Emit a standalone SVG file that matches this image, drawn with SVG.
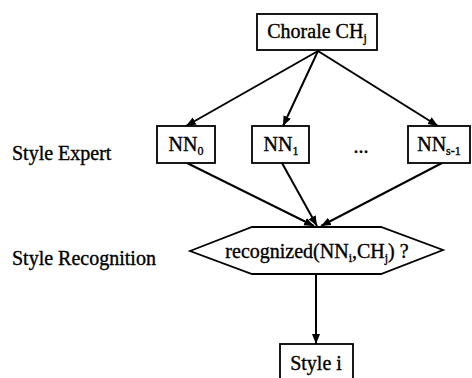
<svg xmlns="http://www.w3.org/2000/svg" width="472" height="378" viewBox="0 0 472 378">
<style>
  .box{fill:#fff;stroke:#000;stroke-width:1.8}
  .t{font-family:"Liberation Serif","Times New Roman",serif;font-size:20px;fill:#000;stroke:#000;stroke-width:0.35}
  .m{text-anchor:middle}
  .sub{font-size:12px}
  .edge{stroke:#000;stroke-width:2;fill:none;marker-end:url(#ah)}
</style>
<defs>
  <marker id="ah" markerUnits="userSpaceOnUse" markerWidth="12" markerHeight="10" refX="10" refY="4" orient="auto">
    <path d="M0,0 L10,4 L0,8 Z" fill="#000"/>
  </marker>
</defs>
<rect width="472" height="378" fill="#fff"/>
<g id="labels">
  <text class="t" x="12" y="160">Style Expert</text>
  <text class="t" x="12" y="265">Style Recognition</text>
</g>
<g id="connectors">
  <line class="edge" x1="318" y1="51" x2="186" y2="126"/>
  <line class="edge" x1="318" y1="51" x2="283" y2="126"/>
  <line class="edge" x1="318" y1="51" x2="438" y2="126"/>
  <line class="edge" x1="187" y1="163" x2="314" y2="226"/>
  <line class="edge" x1="282" y1="163" x2="317" y2="226"/>
  <line class="edge" x1="442" y1="163" x2="321" y2="226"/>
  <line class="edge" x1="316" y1="274" x2="316" y2="344"/>
</g>
<g id="chorale">
  <rect class="box" x="257" y="14" width="120" height="36"/>
  <text class="t m" x="317" y="38">Chorale CH<tspan class="sub" dy="4">j</tspan></text>
</g>
<g id="nn0">
  <rect class="box" x="157" y="126" width="58" height="37"/>
  <text class="t m" x="186" y="151">NN<tspan class="sub" dy="4">0</tspan></text>
</g>
<g id="nn1">
  <rect class="box" x="252" y="126" width="57" height="37"/>
  <text class="t m" x="281" y="151">NN<tspan class="sub" dy="4">1</tspan></text>
</g>
<g id="dots">
  <text class="t m" x="361" y="153">...</text>
</g>
<g id="nns1">
  <rect class="box" x="408" y="126" width="62" height="37"/>
  <text class="t m" x="439" y="151">NN<tspan class="sub" dy="4">s-1</tspan></text>
</g>
<g id="recognition">
  <polygon class="box" points="190,251 252,227 381,227 443,250 381,274 252,274"/>
  <text class="t m" x="317" y="258">recognized(NN<tspan class="sub" dy="4">i</tspan><tspan dy="-4">,CH</tspan><tspan class="sub" dy="4">j</tspan><tspan dy="-4">) ?</tspan></text>
</g>
<g id="style-i">
  <rect class="box" x="280" y="344" width="73" height="44"/>
  <text class="t m" x="316" y="370">Style i</text>
</g>
</svg>
